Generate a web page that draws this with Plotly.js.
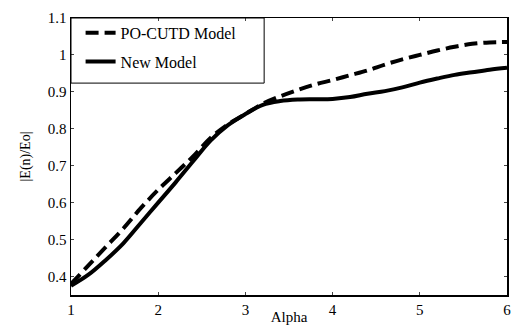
<!DOCTYPE html>
<html>
<head>
<meta charset="utf-8">
<script src="https://cdn.plot.ly/plotly-3.0.1.min.js"></script>
<style>html,body{margin:0;padding:0;background:#fff;}#chart{width:511px;height:325px;}</style>
</head>
<body>
<div id="chart"></div>
<script>
const alpha = [1, 1.2, 1.4, 1.6, 1.8, 2.0, 2.2, 2.4, 2.6, 2.8, 3.0, 3.2, 3.4, 3.6, 3.8, 4.0, 4.2, 4.4, 4.6, 4.8, 5.0, 5.2, 5.4, 5.6, 5.8, 6.0];
const poCutd = [0.38, 0.43, 0.48, 0.53, 0.585, 0.635, 0.68, 0.725, 0.775, 0.812, 0.84, 0.868, 0.888, 0.905, 0.92, 0.932, 0.945, 0.958, 0.974, 0.988, 1.0, 1.012, 1.022, 1.03, 1.034, 1.035];
const newModel = [0.375, 0.405, 0.445, 0.49, 0.545, 0.6, 0.655, 0.712, 0.768, 0.81, 0.84, 0.865, 0.875, 0.879, 0.88, 0.881, 0.886, 0.895, 0.902, 0.912, 0.925, 0.936, 0.946, 0.953, 0.96, 0.965];
const xTicks = [1, 2, 3, 4, 5, 6];
const yTicks = [0.4, 0.5, 0.6, 0.7, 0.8, 0.9, 1.0, 1.1];
const yTickText = ['0.4', '0.5', '0.6', '0.7', '0.8', '0.9', '1', '1.1'];

const font = '"Liberation Serif", "DejaVu Serif", serif';

const traces = [
  {x: alpha, y: poCutd, name: 'PO-CUTD Model', mode: 'lines', legendgroup: 'a',
   line: {color: '#000', width: 4, dash: '13px,6px', shape: 'spline'}},
  {x: alpha, y: newModel, name: 'New Model', mode: 'lines', legendgroup: 'b',
   line: {color: '#000', width: 4, shape: 'spline'}}
];

const layout = {
  width: 511, height: 325,
  margin: {l: 71, r: 4, t: 18, b: 30},
  paper_bgcolor: '#fff', plot_bgcolor: '#fff',
  font: {family: font, color: '#000', size: 15},
  showlegend: true,
  legend: {x: 0.022, y: 1.008, xanchor: 'left', yanchor: 'top', bgcolor: 'rgba(0,0,0,0)',
           borderwidth: 0, font: {size: 16, family: font}, traceorder: 'grouped', tracegroupgap: 5},
  xaxis: {range: [1, 6], tickvals: xTicks, ticktext: xTicks.map(String), ticks: 'inside', ticklen: 3,
          showline: true, linecolor: '#000', linewidth: 1.5, mirror: 'ticks', showgrid: false, zeroline: false,
          tickfont: {size: 15, family: font}, automargin: false, ticklabeloverflow: 'allow',
          title: {text: 'Alpha', font: {size: 15, family: font}, standoff: 0}},
  yaxis: {range: [0.35, 1.1], tickvals: yTicks, ticktext: yTickText, ticks: 'inside', ticklen: 3,
          showline: true, linecolor: '#000', linewidth: 1.5, mirror: 'ticks', showgrid: false, zeroline: false,
          tickfont: {size: 15, family: font}, automargin: false, ticklabeloverflow: 'allow',
          title: {text: '|E(n)/Eo|', font: {size: 14, family: font}, standoff: 14}},
  shapes: [
    {type: 'rect', xref: 'paper', yref: 'paper', x0: 0, x1: 0.443, y0: 0.765, y1: 1,
     line: {color: '#000', width: 1}, fillcolor: 'rgba(0,0,0,0)', layer: 'above'}
  ]
};

Plotly.newPlot('chart', traces, layout, {displayModeBar: false, staticPlot: true});
</script>
</body>
</html>
